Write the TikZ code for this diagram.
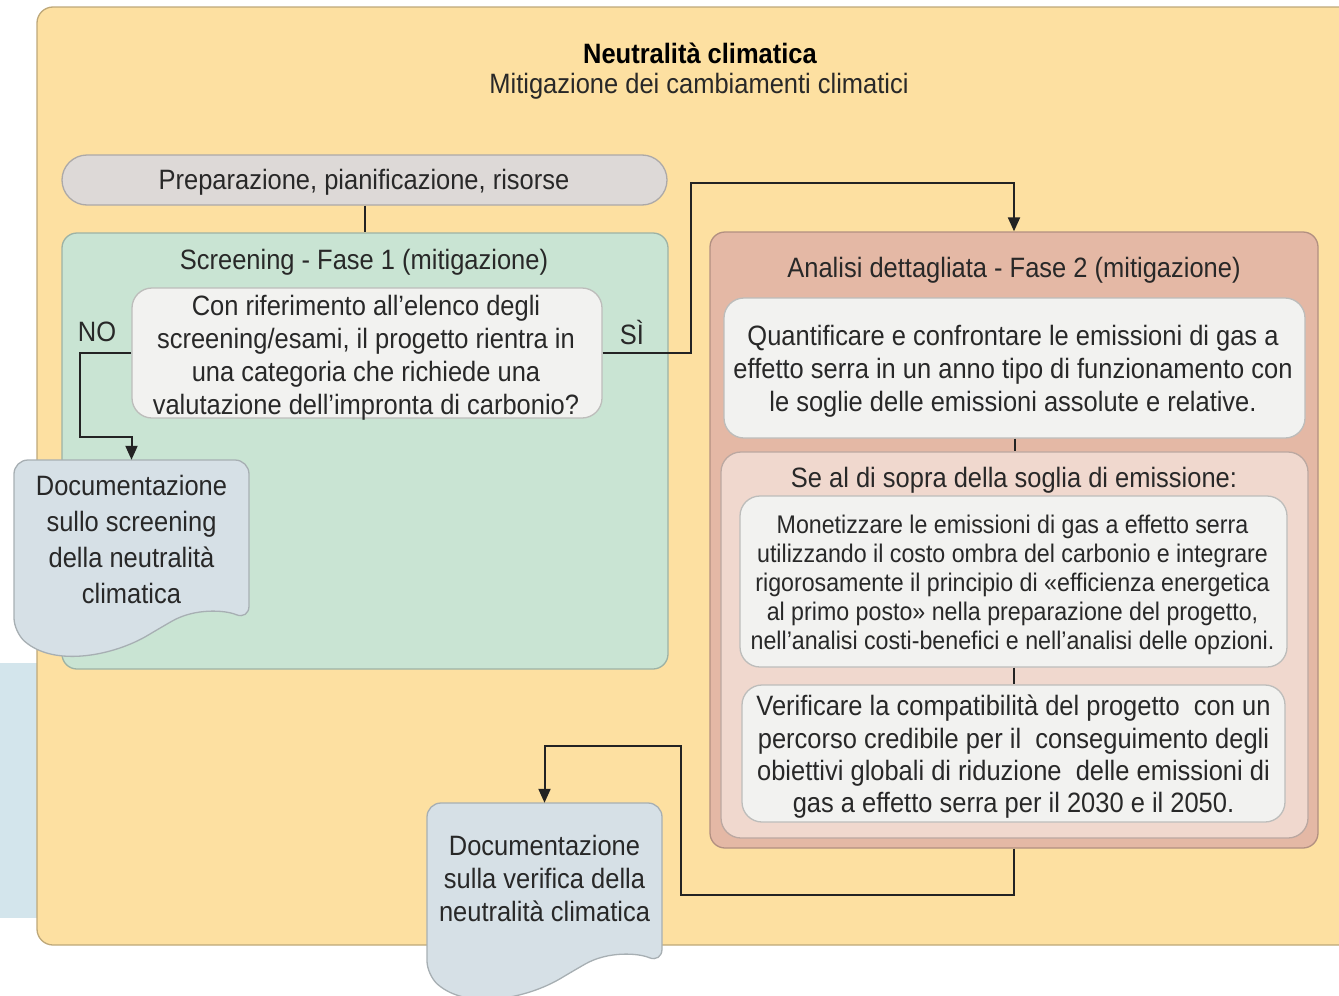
\documentclass[tikz,border=0pt]{standalone}
\usepackage{fontspec}
\setmainfont[FakeStretch=0.91]{Liberation Sans}
\usetikzlibrary{arrows.meta,calc}
\definecolor{bgyellow}{RGB}{253,224,161}
\definecolor{stripblue}{RGB}{211,229,236}
\definecolor{pillgray}{RGB}{221,217,215}
\definecolor{greenbox}{RGB}{201,228,211}
\definecolor{redbox}{RGB}{228,184,165}
\definecolor{pinkbox}{RGB}{240,216,206}
\definecolor{boxwhite}{RGB}{242,242,240}
\definecolor{docblue}{RGB}{214,224,230}
\definecolor{txt}{RGB}{40,40,40}
\definecolor{linecol}{RGB}{35,35,35}
\tikzset{
  base/.style={rectangle, inner sep=0pt, align=center, text=txt, font=\fontsize{28}{33}\selectfont},
  panel/.style={base, fill=#1, draw=#1!78!black, line width=1.3pt, rounded corners=15pt},
  whitebox/.style={panel=boxwhite, rounded corners=20pt},
  conn/.style={draw=linecol, line width=2pt},
  arr/.style={conn, -{Triangle[length=14pt,width=12pt]}},
  docshape/.style={fill=docblue, draw=docblue!78!black, line width=1.3pt},
}
\begin{document}
\begin{tikzpicture}[x=1pt,y=-1pt]
\useasboundingbox (0,0) rectangle (1339,996);
\clip (0,0) rectangle (1339,996);
% left strip
\fill[stripblue] (0,663) rectangle (40,918);
% outer panel
\draw[fill=bgyellow, draw=bgyellow!75!black, line width=1.3pt, rounded corners=16pt] (37,7) rectangle (1380,945);
% titles
\node[base, font=\bfseries\fontsize{28}{33}\selectfont, text=black] (title) at (700,53) {Neutralità climatica};
\node[base, text=txt] (subtitle) at (699,86) {Mitigazione dei cambiamenti climatici};
% preparation pill
\node[panel=pillgray, rounded corners=25pt, minimum width=605pt, minimum height=50pt] (prep) at (364.5,180) {};
\node[base] (preptext) at (364,182) {Preparazione, pianificazione, risorse};
% screening panel
\node[panel=greenbox, minimum width=606pt, minimum height=436pt] (green) at (365,451) {};
\node[base] (greentitle) at (364,262.5) {Screening - Fase 1 (mitigazione)};
\node[whitebox, minimum width=470pt, minimum height=130pt] (q) at (367,353) {};
\node[base] (qtext) at (366,358)
  {Con riferimento all’elenco degli\\screening/esami, il progetto rientra in\\una categoria che richiede una\\valutazione dell’impronta di carbonio?};
\node[base] (no) at (97,332) {NO};
\node[base] (si) at (632,332) {SÌ};
% analysis panel
\node[panel=redbox, minimum width=608pt, minimum height=616pt] (red) at (1014,540) {};
\node[base] (redtitle) at (1014,270.5) {Analisi dettagliata - Fase 2 (mitigazione)};
\node[whitebox, minimum width=581pt, minimum height=140pt] (quant) at (1014.5,368) {};
\node[base] (quanttext) at (1013,371)
  {Quantificare e confrontare le emissioni di gas a\\effetto serra in un anno tipo di funzionamento con\\le soglie delle emissioni assolute e relative.};
\node[panel=pinkbox, rounded corners=20pt, minimum width=587pt, minimum height=386pt] (pink) at (1014.5,645) {};
\node[base] (pinktitle) at (1014,480.5) {Se al di sopra della soglia di emissione:};
\node[whitebox, minimum width=547pt, minimum height=171pt] (monet) at (1013.5,581.5) {};
\node[base, font=\fontsize{25.5}{29}\selectfont] (monettext) at (1012.5,584.5)
  {Monetizzare le emissioni di gas a effetto serra\\utilizzando il costo ombra del carbonio e integrare\\rigorosamente il principio di «efficienza energetica\\al primo posto» nella preparazione del progetto,\\nell’analisi costi-benefici e nell’analisi delle opzioni.};
\node[whitebox, minimum width=543pt, minimum height=137pt] (verif) at (1013.5,753.5) {};
\node[base, font=\fontsize{28}{32.3}\selectfont] (veriftext) at (1013.5,757)
  {Verificare la compatibilità del progetto \ con un\\percorso credibile per il \ conseguimento degli\\obiettivi globali di riduzione \ delle emissioni di\\gas a effetto serra per il 2030 e il 2050.};
% document shapes
\draw[docshape, rounded corners=14pt] (14,560) -- (14,460) -- (249,460) -- (249,620)
  .. controls (225,610) and (195,608) .. (160,628) .. controls (115,655) and (55,668) .. (14,632) -- cycle;
\begin{scope}[shift={(413,343)}]
\draw[docshape, rounded corners=14pt] (14,560) -- (14,460) -- (249,460) -- (249,620)
  .. controls (225,610) and (195,608) .. (160,628) .. controls (115,655) and (55,668) .. (14,632) -- cycle;
\end{scope}
\node[base, minimum width=235pt, minimum height=158pt, font=\fontsize{28}{36}\selectfont] (doc1) at (131.5,539)
  {Documentazione\\sullo screening\\della neutralità\\climatica};
\node[base, minimum width=235pt, minimum height=150pt] (doc2) at (544.5,878)
  {Documentazione\\sulla verifica della\\neutralità climatica};
% connectors
\coordinate (n1) at (80,437);
\coordinate (s1) at (691,183);
\coordinate (r1) at (681,895);
\coordinate (r2) at (681,746);
\draw[conn] (prep.south) -- (prep.south |- green.north);
\draw[arr] (q.west) -| (n1) -| (doc1.north);
\draw[arr] (q.east) -| (s1) -| (red.north);
\draw[conn] (quant.south) -- (quant.south |- pink.north);
\draw[conn] (monet.south) -- (monet.south |- verif.north);
\draw[arr] (red.south) |- (r1) -- (r2) -| (doc2.north);
\end{tikzpicture}
\end{document}
